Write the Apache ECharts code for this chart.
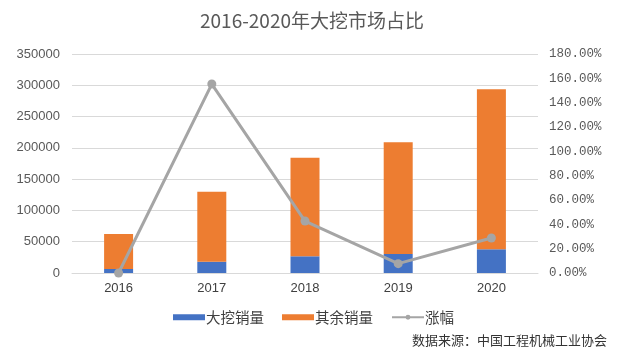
<!DOCTYPE html>
<html>
<head>
<meta charset="utf-8">
<script src="https://cdn.jsdelivr.net/npm/echarts@6/dist/echarts.min.js"></script>
<style>
html,body{margin:0;padding:0;background:#fff;}
#c{width:622px;height:362px;}
</style>
</head>
<body>
<div id="c"></div>
<script>
var years = ['2016', '2017', '2018', '2019', '2020'];
var bigSales = [6500, 18000, 26700, 30400, 37900];
var otherSales = [55800, 112000, 157600, 178500, 255700];
var growth = [0.0, 1.553, 0.427, 0.077, 0.288];
var leftTicks = [0, 50000, 100000, 150000, 200000, 250000, 300000, 350000];
var rightTicks = [0, 0.2, 0.4, 0.6, 0.8, 1.0, 1.2, 1.4, 1.6, 1.8];

var chart = echarts.init(document.getElementById('c'), null, {renderer: 'canvas'});
var cjk = '"Noto Sans CJK SC", sans-serif';
chart.setOption({
  animation: false,
  backgroundColor: '#ffffff',
  title: {
    text: '2016-2020年大挖市场占比',
    left: 307, top: 6, textAlign: 'center',
    textStyle: {fontFamily: cjk, fontSize: 19, fontWeight: 'normal', color: '#595959'}
  },
  legend: {
    left: 168, top: 305,
    itemWidth: 32, itemHeight: 6, itemGap: 18,
    textStyle: {fontFamily: cjk, fontSize: 14.5, color: '#404040', padding: [0, 0, 0, -4]},
    data: [
      {name: '大挖销量', icon: 'rect'},
      {name: '其余销量', icon: 'rect'},
      {name: '涨幅'}
    ]
  },
  graphic: [{
    type: 'text', right: 15, top: 334,
    style: {text: '数据来源：中国工程机械工业协会', font: '13px "Noto Sans CJK SC"', fill: '#333333'}
  }],
  grid: {left: 72, right: 84, top: 54, bottom: 89, containLabel: false},
  xAxis: {
    type: 'category', data: years,
    axisLine: {lineStyle: {color: '#d9d9d9', width: 1}},
    axisTick: {show: false},
    axisLabel: {color: '#404040', fontSize: 13, fontFamily: 'Liberation Sans', margin: 9}
  },
  yAxis: [{
    type: 'value', min: leftTicks[0], max: leftTicks[leftTicks.length - 1], interval: 50000,
    axisLine: {show: false}, axisTick: {show: false},
    splitLine: {lineStyle: {color: '#d9d9d9', width: 1}},
    axisLabel: {
      color: '#595959', fontSize: 13, fontFamily: 'Liberation Sans', margin: 12,
      formatter: function (v) { return String(v); }
    }
  }, {
    type: 'value', min: rightTicks[0], max: rightTicks[rightTicks.length - 1], interval: 0.2,
    axisLine: {show: false}, axisTick: {show: false},
    splitLine: {show: false},
    axisLabel: {
      color: '#595959', fontSize: 12.5, fontFamily: 'Liberation Mono', margin: 11,
      formatter: function (v) { return (v * 100).toFixed(2) + '%'; }
    }
  }],
  series: [{
    name: '大挖销量', type: 'bar', stack: 's', data: bigSales, barWidth: 29,
    itemStyle: {color: '#4472C4'}
  }, {
    name: '其余销量', type: 'bar', stack: 's', data: otherSales, barWidth: 29,
    itemStyle: {color: '#ED7D31'}
  }, {
    name: '涨幅', type: 'line', yAxisIndex: 1, data: growth,
    symbol: 'circle', symbolSize: 9,
    lineStyle: {color: '#A5A5A5', width: 3},
    itemStyle: {color: '#A5A5A5'}
  }]
});
</script>
</body>
</html>
